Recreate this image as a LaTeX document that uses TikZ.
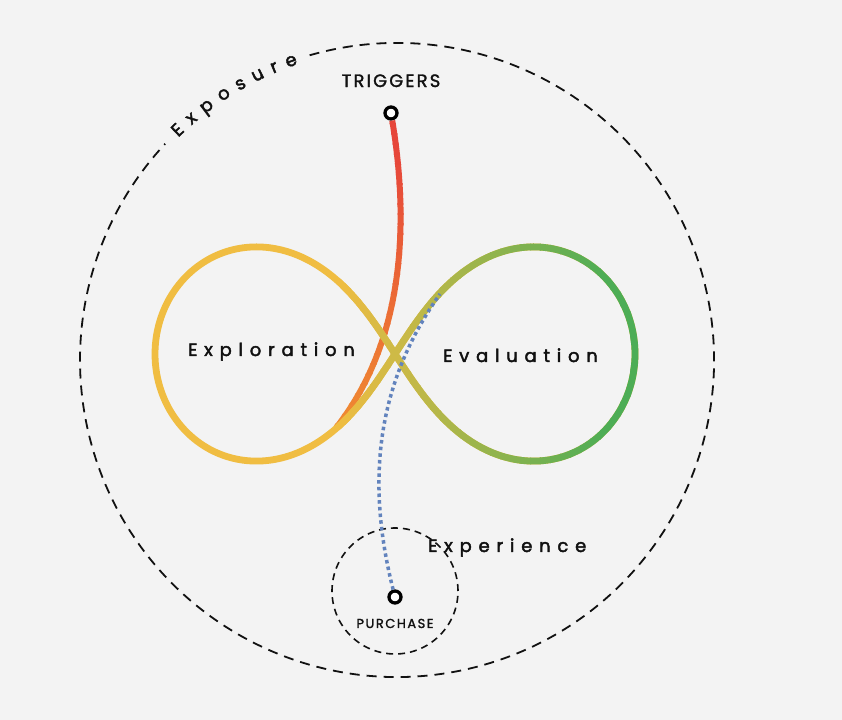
\documentclass[tikz,border=0pt]{standalone}
\usepackage{fontspec}
\setmainfont{Poppins}
\newfontfamily\stagefont[LetterSpace=38, FakeBold=2.4]{Poppins}
\newfontfamily\markfont[LetterSpace=12, FakeBold=1.6]{Poppins}
\usepackage{tikz}
\usetikzlibrary{positioning,decorations.text}
\definecolor{canvas}{HTML}{F3F3F3}
\definecolor{inkdark}{HTML}{111111}
\definecolor{loopyellow}{HTML}{F0BD42}
\definecolor{loopgreen}{HTML}{4DAD55}
\definecolor{trigred}{HTML}{E6463A}
\definecolor{trigorange}{HTML}{EF8832}
\definecolor{pathblue}{HTML}{6283BD}
\tikzset{
  bigring/.style={draw=inkdark, line width=1.8bp, dash pattern=on 10bp off 7bp},
  smallring/.style={draw=inkdark, line width=1.6bp, dash pattern=on 7bp off 5bp},
  stagedot/.style={circle, draw=black, line width=3.3bp, fill=white,
               minimum size=12bp, inner sep=0pt},
  stagename/.style={anchor=base west, inner sep=0pt, text=inkdark,
               font=\stagefont\fontsize{18}{21}\selectfont},
  pointname/.style={inner sep=0pt, text=inkdark,
               font=\markfont\fontsize{18}{21}\selectfont},
  triggerline/.style={line width=6bp},
  loopline/.style={line width=6.8bp, line join=round},
  journeyline/.style={draw=pathblue, line width=3.5bp, dash pattern=on 3.5bp off 3.2bp},
}
\newcommand\loopcurve{plot[domain=0:358.5, samples=240, smooth cycle]
  ({395+240*cos(\x)/(1+2*sin(\x)*sin(\x))}, {366+371*sin(\x)*cos(\x)/(1+2*sin(\x)*sin(\x))})}

\begin{document}
\begin{tikzpicture}[x=1bp, y=1bp]

  \fill[canvas] (0,0) rectangle (842,720);
  \useasboundingbox (0,0) rectangle (842,720);

  \coordinate (hub) at (397,360);
  \coordinate (loopjoin) at (336,292);
  \coordinate (evalentry) at (440,426);

  % exposure ring, open where its name runs along it
  \draw[bigring] ([shift={(106:317)}]hub) arc[start angle=106, end angle=-223, radius=317];
  \path[decorate, decoration={text along path, text align=fit to path, raise=-5bp,
      text color=inkdark, text={|\stagefont\fontsize{18}{21}\selectfont|Exposure}}]
    ([shift={(134.5:317)}]hub) arc[start angle=134.5, end angle=108.5, radius=317];

  % experience ring
  \draw[smallring] (395,129) circle[radius=63];

  \node[stagedot] (trig) at (391,607) {};
  \node[stagedot] (buy) at (395,123) {};
  \node[pointname, above=18bp of trig] (triglabel) {TRIGGERS};
  \node[pointname, below=14bp of buy, font=\markfont\fontsize{13}{15}\selectfont] (buylabel) {PURCHASE};

  % trigger line, red turning orange
  \foreach \ya in {285,295,...,615} {
    \pgfmathsetmacro\redpart{100*min(1,max(0,(\ya-300)/260))}
    \begin{scope}
      \clip (0,\ya) rectangle (842,\ya+11);
      \draw[triggerline, draw=trigred!\redpart!trigorange]
        (trig) .. controls (412,480) and (398,371) .. (loopjoin);
    \end{scope}
  }

  % the loop, yellow turning green
  \draw[loopline, loopyellow] \loopcurve;
  \foreach \xa in {340,350,...,640} {
    \pgfmathsetmacro\greenpart{min(100,(\xa-335)/265*100)}
    \begin{scope}
      \clip (\xa,0) rectangle (\xa+11,720);
      \draw[loopline, draw=loopgreen!\greenpart!loopyellow] \loopcurve;
    \end{scope}
  }

  \draw[journeyline] (buy) .. controls (368,230) and (372,330) .. (evalentry);

  \node[stagename] (explore) at (188,364) {Exploration};
  \node[stagename] (evaluate) at (443,358) {Evaluation};
  \node[stagename] (experience) at (428,168) {Experience};

\end{tikzpicture}
\end{document}
